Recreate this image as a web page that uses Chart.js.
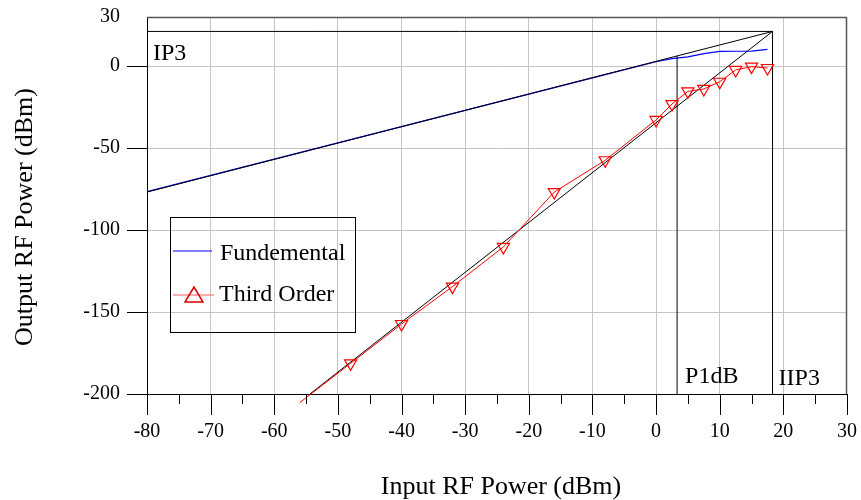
<!DOCTYPE html>
<html>
<head>
<meta charset="utf-8">
<script src="https://cdn.jsdelivr.net/npm/chart.js@4.4.0/dist/chart.umd.min.js"></script>
<style>
  html, body { margin: 0; padding: 0; background: #fff; }
  #wrap { position: relative; width: 861px; height: 500px; }
</style>
</head>
<body>
<div id="wrap"><canvas id="chart"></canvas></div>
<script>
// measured curves
const fundX  = [-80, -56, -48, -40, -32, -24, -16, -8, 0, 2.5, 5, 7.5, 10, 12.5, 15, 17.5]
const fundY  = [-76.6, -52.7, -44.8, -36.9, -28.9, -21.0, -13.1, -5.2, 2.7, 4.6, 5.7, 7.6, 9.0, 9.1, 9.2, 10.2]
const thirdX = [-56, -48, -40, -32, -24, -16, -8, 0, 2.5, 5, 7.5, 10, 12.5, 15, 17.5]
const thirdY = [-205.3, -181.3, -157.3, -134.5, -110.3, -76.8, -57.4, -32.8, -23.1, -15.4, -13.9, -9.5, -2.3, -0.3, -1.1]

// extrapolation / marker lines
const ip3Level = 21.2
const iip3In = 18.3
const p1dbIn = 3.3
const fundExtX  = [-80, 18.3]
const fundExtY  = [-76.8, 21.2]
const thirdExtX = [-54.4, 18.3]
const thirdExtY = [-200, 21.2]
const p1dbTop = 6.2

// axes
const xRange = [-80, 30]
const yRange = [-200, 30]
const yTicks = [-200, -150, -100, -50, 0, 30]
const xTitle = 'Input RF Power (dBm)'
const yTitle = 'Output RF Power (dBm)'

const fundColor = '#0000ff'
const thirdColor = '#ff0000'
const serif = '"Liberation Serif", "Times New Roman", serif'
const pts = (xs, ys) => xs.map((x, i) => ({ x: x, y: ys[i] }))

const blackLine = (xs, ys) => ({
  data: pts(xs, ys),
  borderColor: '#000',
  borderWidth: 1,
  pointRadius: 0,
  showLine: true,
  fill: false
})

// no extra room for overflowing tick labels, the plot box is fixed
const noPad = s => {
  s.paddingTop = 0
  s.paddingBottom = 0
  s.paddingLeft = 0
  s.paddingRight = 0
}

const overlay = {
  id: 'overlay',
  afterDraw(chart) {
    const { ctx, chartArea: a, scales: { x, y } } = chart
    ctx.save()

    // top / right frame
    ctx.strokeStyle = '#555'
    ctx.lineWidth = 1.5
    ctx.beginPath()
    ctx.moveTo(a.left, a.top + 0.5)
    ctx.lineTo(a.right - 0.5, a.top + 0.5)
    ctx.lineTo(a.right - 0.5, a.bottom)
    ctx.stroke()

    // tick marks
    ctx.strokeStyle = '#000'
    ctx.lineWidth = 1
    ctx.beginPath()
    x.ticks.forEach((t, i) => {
      const px = Math.round(x.getPixelForValue(t.value)) + 0.5
      ctx.moveTo(px, a.bottom)
      ctx.lineTo(px, a.bottom + 21)
      if (i < x.ticks.length - 1) {
        const m = Math.round(x.getPixelForValue((t.value + x.ticks[i + 1].value) / 2)) + 0.5
        ctx.moveTo(m, a.bottom)
        ctx.lineTo(m, a.bottom + 10)
      }
    })
    y.ticks.forEach(t => {
      if (t.value === y.max) return
      const py = Math.round(y.getPixelForValue(t.value)) + 0.5
      ctx.moveTo(a.left - 20, py)
      ctx.lineTo(a.left, py)
    })
    ctx.stroke()

    // annotations
    ctx.fillStyle = '#000'
    ctx.font = '24px ' + serif
    ctx.textAlign = 'left'
    ctx.textBaseline = 'alphabetic'
    ctx.fillText('IP3', x.getPixelForValue(xRange[0]) + 6, y.getPixelForValue(ip3Level) + 29)
    ctx.fillText('P1dB', x.getPixelForValue(p1dbIn) + 8, a.bottom - 11)
    ctx.fillText('IIP3', x.getPixelForValue(iip3In) + 6, a.bottom - 9)

    // legend
    const ds = chart.data.datasets
    const fund = ds.find(d => d.id === 'fund')
    const third = ds.find(d => d.id === 'third')
    ctx.strokeStyle = '#000'
    ctx.lineWidth = 1
    ctx.strokeRect(170.5, 217.5, 185, 115)

    ctx.strokeStyle = fundColor
    ctx.lineWidth = 1.2
    ctx.beginPath()
    ctx.moveTo(173, 251)
    ctx.lineTo(212, 251)
    ctx.stroke()
    ctx.fillText(fund.label, 220, 260)

    ctx.strokeStyle = 'rgb(255,90,90)'
    ctx.lineWidth = 1.2
    ctx.beginPath()
    ctx.moveTo(173, 295)
    ctx.lineTo(214, 295)
    ctx.stroke()
    ctx.strokeStyle = 'rgb(215,0,0)'
    ctx.lineWidth = 1.5
    ctx.beginPath()
    ctx.moveTo(194, 287)
    ctx.lineTo(203, 302)
    ctx.lineTo(185, 302)
    ctx.closePath()
    ctx.stroke()
    ctx.fillText(third.label, 219, 301)

    // axis titles
    ctx.font = '26px ' + serif
    ctx.textAlign = 'center'
    ctx.textBaseline = 'middle'
    ctx.fillText(xTitle, 501, 487)
    ctx.translate(25, 217)
    ctx.rotate(-Math.PI / 2)
    ctx.fillText(yTitle, 0, 0)

    ctx.restore()
  }
}

new Chart(document.getElementById('chart'), {
  type: 'scatter',
  data: {
    datasets: [
      {
        id: 'third',
        label: 'Third Order',
        data: pts(thirdX, thirdY),
        showLine: true,
        borderColor: thirdColor,
        borderWidth: 1,
        pointStyle: 'triangle',
        rotation: 180,
        pointRadius: thirdX.map((v, i) => i === 0 ? 0 : 7),
        pointBorderColor: thirdColor,
        pointBackgroundColor: 'rgba(0,0,0,0)',
        pointBorderWidth: 1.2,
        clip: false
      },
      blackLine(fundExtX, fundExtY),
      blackLine(thirdExtX, thirdExtY),
      blackLine([xRange[0], iip3In], [ip3Level, ip3Level]),
      blackLine([iip3In, iip3In], [yRange[0], ip3Level]),
      blackLine([p1dbIn, p1dbIn], [yRange[0], p1dbTop]),
      {
        id: 'fund',
        label: 'Fundemental',
        data: pts(fundX, fundY),
        showLine: true,
        borderColor: fundColor,
        borderWidth: 1.2,
        pointRadius: 0
      }
    ]
  },
  options: {
    responsive: true,
    maintainAspectRatio: false,
    animation: false,
    layout: { padding: { left: 0, top: 17, right: 14, bottom: 0 } },
    plugins: {
      legend: { display: false },
      tooltip: { enabled: false }
    },
    scales: {
      x: {
        type: 'linear',
        position: 'bottom',
        min: xRange[0],
        max: xRange[1],
        afterFit: s => { s.height = 106; noPad(s) },
        ticks: {
          stepSize: 10,
          autoSkip: false,
          maxRotation: 0,
          padding: 26,
          color: '#000',
          font: { family: serif, size: 20 }
        },
        grid: {
          drawTicks: false,
          color: c => (c.tick && (c.tick.value === xRange[0] || c.tick.value === xRange[1])) ? 'rgba(0,0,0,0)' : '#c4c4c4',
          lineWidth: 1
        },
        border: { color: '#000', width: 1 }
      },
      y: {
        type: 'linear',
        min: yRange[0],
        max: yRange[1],
        afterFit: s => { s.width = 147; noPad(s) },
        afterBuildTicks: s => { s.ticks = yTicks.map(v => ({ value: v })) },
        ticks: {
          autoSkip: false,
          padding: 27,
          color: '#000',
          font: { family: serif, size: 20 }
        },
        grid: {
          drawTicks: false,
          color: c => (c.tick && (c.tick.value === yRange[0] || c.tick.value === yRange[1])) ? 'rgba(0,0,0,0)' : '#c4c4c4',
          lineWidth: 1
        },
        border: { color: '#000', width: 1 }
      }
    }
  },
  plugins: [overlay]
})
</script>
</body>
</html>
